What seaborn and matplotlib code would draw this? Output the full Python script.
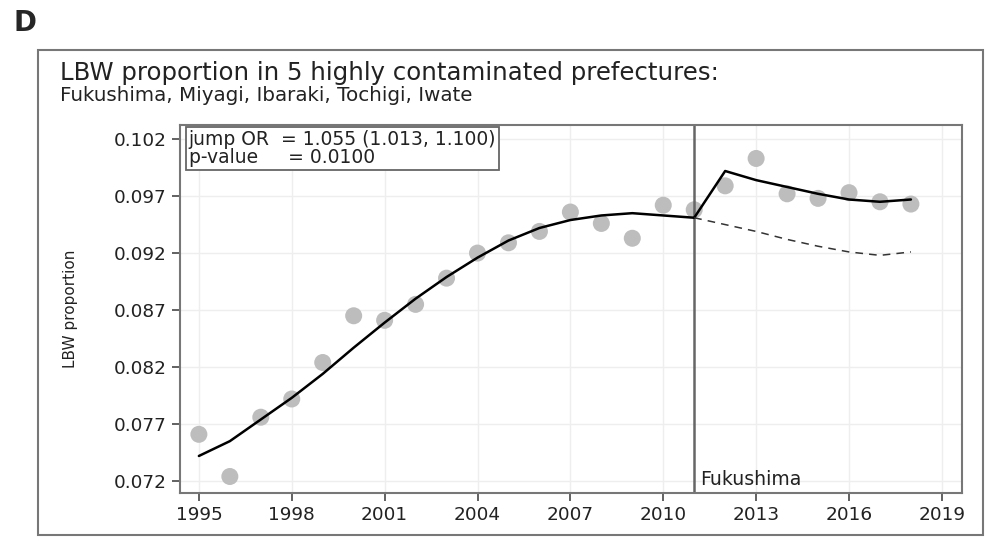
"""LBW proportion, interrupted time series around Fukushima (panel D)."""

import matplotlib
matplotlib.use("Agg")
import matplotlib.pyplot as plt
from matplotlib.patches import Rectangle
import pandas as pd
import seaborn as sns

years = list(range(1995, 2019))
observed = [0.0761, 0.0724, 0.0776, 0.0792, 0.0824, 0.0865, 0.0861, 0.0875,
            0.0898, 0.0920, 0.0929, 0.0939, 0.0956, 0.0946, 0.0933, 0.0962,
            0.0958, 0.0979, 0.1003, 0.0972, 0.0968, 0.0973, 0.0965, 0.0963]

pre_years = list(range(1995, 2012))
pre_fit = [0.0742, 0.0755, 0.0774, 0.0793, 0.0814, 0.0837, 0.0859, 0.0880,
           0.0899, 0.0916, 0.0931, 0.0942, 0.0949, 0.0953, 0.0955, 0.0953,
           0.0951]

post_years = list(range(2011, 2019))
post_fit = [0.0951, 0.0992, 0.0984, 0.0978, 0.0972, 0.0967, 0.0965, 0.0967]
counterfactual = [0.0951, 0.0945, 0.0939, 0.0932, 0.0926, 0.0921, 0.0918, 0.0921]

x_ticks = [1995, 1998, 2001, 2004, 2007, 2010, 2013, 2016, 2019]
y_ticks = [0.072, 0.077, 0.082, 0.087, 0.092, 0.097, 0.102]
event_year = 2011

sns.set_theme(style="whitegrid", rc={
    "xtick.bottom": True, "ytick.left": True,
    "xtick.major.size": 6, "ytick.major.size": 6,
    "xtick.major.width": 1.3, "ytick.major.width": 1.3,
    "xtick.color": "#555555", "ytick.color": "#555555",
})
plt.rcParams["font.family"] = ["DejaVu Sans"]

obs = pd.DataFrame({"year": years, "lbw": observed})
pre = pd.DataFrame({"year": pre_years, "lbw": pre_fit})
post = pd.DataFrame({"year": post_years, "lbw": post_fit})
cf = pd.DataFrame({"year": post_years, "lbw": counterfactual})

fig = plt.figure(figsize=(10, 5.5), dpi=100)
fig.patches.append(Rectangle((0.038, 0.027), 0.945, 0.882, transform=fig.transFigure,
                             fill=False, edgecolor="#777777", linewidth=1.5))
ax = fig.add_axes([0.18, 0.1036, 0.782, 0.669])

sns.scatterplot(data=obs, x="year", y="lbw", ax=ax, s=150, color="#bdbdbd",
                edgecolor="none", zorder=2)
sns.lineplot(data=pre, x="year", y="lbw", ax=ax, color="black", linewidth=1.8, zorder=3)
sns.lineplot(data=post, x="year", y="lbw", ax=ax, color="black", linewidth=1.8, zorder=3)
sns.lineplot(data=cf, x="year", y="lbw", ax=ax, color="#333333", linewidth=1.1,
             linestyle=(0, (5, 4)), zorder=3)
ax.axvline(event_year, color="#666666", linewidth=1.8, zorder=2)

ax.set_xlim(1994.39, 2019.65)
ax.set_ylim(0.07095, 0.10323)
ax.set_xticks(x_ticks)
ax.set_yticks(y_ticks)
ax.set_yticklabels([f"{v:.3f}" for v in y_ticks])
ax.set_xlabel("")
ax.set_ylabel("LBW proportion", fontsize=11, labelpad=26, color="#222222")
ax.tick_params(axis="both", labelsize=13.3, labelcolor="#222222")
ax.grid(color="#eeeeee", linewidth=1)
for side in ("left", "bottom", "top", "right"):
    ax.spines[side].set_color("#777777")
    ax.spines[side].set_linewidth(1.5)

ax.text(0.011, 0.986, "jump OR  = 1.055 (1.013, 1.100)\np-value     = 0.0100",
        transform=ax.transAxes, ha="left", va="top", fontsize=13.5, linespacing=0.95,
        color="#222222",
        bbox=dict(boxstyle="square,pad=0.15", facecolor="white", edgecolor="#666666",
                  linewidth=1.3))
ax.text(event_year + 0.2, 0.0713, "Fukushima", ha="left", va="bottom", fontsize=13.6,
        color="#222222")

fig.text(0.06, 0.867, "LBW proportion in 5 highly contaminated prefectures:",
         fontsize=17.6, color="#222222", va="center")
fig.text(0.06, 0.827, "Fukushima, Miyagi, Ibaraki, Tochigi, Iwate",
         fontsize=14.3, color="#222222", va="center")
fig.text(0.014, 0.958, "D", fontsize=20, fontweight="bold", va="center")

fig.savefig("out.png", dpi=100)
